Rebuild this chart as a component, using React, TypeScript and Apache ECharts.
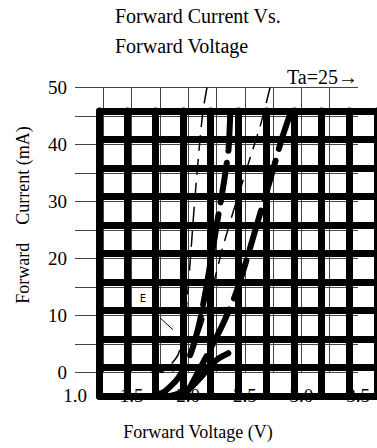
import React, { useEffect, useRef } from "react";
import * as echarts from "echarts";

const titleLines = ["Forward Current Vs.", "Forward Voltage"];
const tempNote = "Ta=25→";
const xTitle = "Forward Voltage (V)";
const yTitle = "Forward    Current (mA)";
const markerLabel = "E";

const voltageLabels = [1.0, 1.5, 2.0, 2.5, 3.0, 3.5];
const currentLabels = [0, 10, 20, 30, 40, 50];

// thin (fine) grid curves
const thinA_V = [2.166, 2.131, 2.104, 2.078, 2.051, 2.025, 1.998, 1.963, 1.91, 1.795, 1.663];
const thinA_I = [50, 46.0, 40.8, 35.0, 28.5, 21.5, 14.5, 7.5, 3.1, 0.4, 0];
const thinB_V = [2.723, 2.678, 2.634, 2.546, 2.458, 2.396, 2.299, 2.21, 2.122, 2.016, 1.883, 1.751];
const thinB_I = [50, 46.4, 43.1, 37.6, 32.0, 28.1, 21.5, 14.5, 8.3, 3.1, 0.4, 0];
const leader_V = [1.751, 1.866];
const leader_I = [9.6, 7.5];

// heavy grid curves
const heavyA_V = [2.179, 2.162, 2.117, 2.064, 2.011, 1.958, 1.897, 1.817, 1.711, 1.579, 1.446];
const heavyA_I = [50, 43.2, 37.0, 30.9, 24.7, 18.6, 12.5, 7.2, 3.2, 0.7, 0];
const heavyB_V = [2.727, 2.639, 2.55, 2.444, 2.33, 2.223, 2.109, 1.994, 1.888, 1.799, 1.711];
const heavyB_I = [50, 44.9, 38.8, 31.8, 24.2, 17.7, 12.5, 8.1, 4.2, 1.05, 0];
const heavyC_V = [1.64, 1.799, 1.914, 2.003, 2.082, 2.161];
const heavyC_I = [0, 1.05, 3.3, 5.4, 6.7, 7.5];

const zip = (xs: number[], ys: number[]) => xs.map((x, i) => [x, ys[i]]);
const SERIF = "'Liberation Serif', 'Times New Roman', serif";

export default function App() {
  const ref = useRef<HTMLDivElement>(null);
  useEffect(() => {
    if (!ref.current) return;
    const chart = echarts.init(ref.current, undefined, { renderer: "svg" });
    const isLabel = (arr: number[], v: number) => arr.some((a) => Math.abs(a - v) < 1e-6);
    const thinSplit = { show: true, lineStyle: { color: "#444", width: 1 } };
    const heavySplit = { show: true, lineStyle: { color: "#000", width: 7, cap: "round" } };
    chart.setOption({
      animation: false,
      backgroundColor: "#fff",
      grid: [
        { left: 75, top: 87.5, width: 283, height: 285 },
        { left: 99.5, top: 111, width: 283, height: 285 },
      ],
      xAxis: [
        {
          type: "value", gridIndex: 0, min: 1, max: 3.5, interval: 0.25, z: 0,
          axisLine: { show: false }, axisTick: { show: false },
          splitLine: { ...thinSplit, showMinLine: false, showMaxLine: false },
          axisLabel: {
            margin: 13, color: "#000", fontSize: 19, fontFamily: SERIF,
            formatter: (v: number) => (isLabel(voltageLabels, v) ? v.toFixed(1) : ""),
          },
        },
        {
          type: "value", gridIndex: 1, min: 1, max: 3.5, interval: 0.25, z: 1,
          axisLine: { show: false }, axisTick: { show: false }, axisLabel: { show: false },
          splitLine: heavySplit,
        },
      ],
      yAxis: [
        {
          type: "value", gridIndex: 0, min: 0, max: 50, interval: 5, z: 0,
          axisLine: { show: false }, axisTick: { show: false },
          splitLine: thinSplit,
          axisLabel: {
            margin: 8, color: "#000", fontSize: 19, fontFamily: SERIF,
            formatter: (v: number) => (isLabel(currentLabels, v) ? String(v) : ""),
          },
        },
        {
          type: "value", gridIndex: 1, min: 0, max: 50, interval: 5, z: 1,
          axisLine: { show: false }, axisTick: { show: false }, axisLabel: { show: false },
          splitLine: heavySplit,
        },
      ],
      series: [
        {
          type: "line", xAxisIndex: 0, yAxisIndex: 0, data: zip(thinA_V, thinA_I), showSymbol: false,
          smooth: 0.2, z: 3, lineStyle: { color: "#000", width: 1.5, type: [16, 8] },
        },
        {
          type: "line", xAxisIndex: 0, yAxisIndex: 0, data: zip(thinB_V, thinB_I), showSymbol: false,
          smooth: 0.2, z: 3, lineStyle: { color: "#000", width: 1.5, type: [16, 8] },
        },
        {
          type: "line", xAxisIndex: 0, yAxisIndex: 0, data: zip(leader_V, leader_I), showSymbol: false,
          z: 3, lineStyle: { color: "#000", width: 1 },
        },
        {
          type: "line", xAxisIndex: 1, yAxisIndex: 1, data: zip(heavyA_V, heavyA_I), showSymbol: false,
          smooth: 0.2, z: 3, lineStyle: { color: "#000", width: 6, type: [40, 12], cap: "round" },
        },
        {
          type: "line", xAxisIndex: 1, yAxisIndex: 1, data: zip(heavyB_V, heavyB_I), showSymbol: false,
          smooth: 0.2, z: 3, lineStyle: { color: "#000", width: 6, type: [40, 12], cap: "round" },
        },
        {
          type: "line", xAxisIndex: 1, yAxisIndex: 1, data: zip(heavyC_V, heavyC_I), showSymbol: false,
          smooth: 0.2, z: 3, lineStyle: { color: "#000", width: 6, cap: "round" },
        },
      ],
      graphic: [
        { type: "text", left: 115, top: 6, style: { text: titleLines[0], fontSize: 20, fontFamily: SERIF, fill: "#000" } },
        { type: "text", left: 115, top: 36, style: { text: titleLines[1], fontSize: 20, fontFamily: SERIF, fill: "#000" } },
        { type: "text", right: 19, top: 67, style: { text: tempNote, fontSize: 20, fontFamily: SERIF, fill: "#000" } },
        { type: "text", x: 198, y: 432, style: { text: xTitle, fontSize: 18, fontFamily: SERIF, fill: "#000", align: "center", verticalAlign: "middle" } },
        { type: "text", x: 23, y: 215, rotation: Math.PI / 2, style: { text: yTitle, fontSize: 18, fontFamily: SERIF, fill: "#000", align: "center", verticalAlign: "middle" } },
        { type: "text", x: 143, y: 298, z: 10, style: { text: markerLabel, fontSize: 10, fontFamily: "'DejaVu Sans', sans-serif", fill: "#000", align: "center", verticalAlign: "middle" } },
      ],
    });
    return () => chart.dispose();
  }, []);
  return <div ref={ref} style={{ position: "absolute", left: 0, top: 0, width: 377, height: 448 }} />;
}
